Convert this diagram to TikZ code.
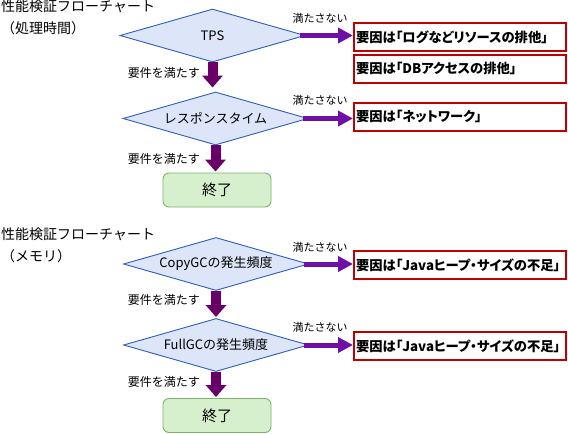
\documentclass[tikz,border=0pt]{standalone}
\usepackage{fontspec}
\setmainfont{Noto Sans CJK JP}
\usetikzlibrary{shapes.geometric,arrows.meta}

\definecolor{checkfill}{HTML}{DCE6F8}
\definecolor{checkline}{HTML}{2F5DB9}
\definecolor{passarrow}{HTML}{680068}
\definecolor{failarrow}{HTML}{6E10A6}
\definecolor{causered}{HTML}{C00000}
\definecolor{endfill}{HTML}{D6EFCC}
\definecolor{endline}{HTML}{7DB46C}

\begin{document}
\begin{tikzpicture}[x=1pt,y=-1pt,
    check/.style={diamond,draw=checkline,fill=checkfill,line width=0.9pt,
      shape aspect=3.5,minimum width=185pt,minimum height=53pt,inner sep=0pt,
      font=\fontsize{13}{15}\selectfont},
    cause/.style={draw=causered,line width=2pt,fill=white,anchor=west,
      text width=208pt,minimum height=28pt,inner sep=2pt,align=left,
      font=\fontsize{13.3}{15}\selectfont\bfseries\addfontfeature{RawFeature=+palt}},
    finish/.style={draw=endline,fill=endfill,rounded corners=6pt,line width=0.9pt,
      minimum width=108pt,minimum height=34pt,font=\fontsize{15}{17}\selectfont},
    pass/.style={draw=passarrow,line width=10pt,-{Triangle[width=20pt,length=12pt]}},
    fail/.style={draw=failarrow,line width=5pt,-{Triangle[width=15pt,length=15pt]}},
    note/.style={inner sep=0pt,font=\fontsize{11}{13}\selectfont},
    okay/.style={note,anchor=east,font=\fontsize{12}{14}\selectfont},
    heading/.style={anchor=north west,inner sep=0pt,align=left,
      font=\fontsize{14}{18}\selectfont},
  ]
    \useasboundingbox (0,0) rectangle (568,434);

    % processing time
    \node[heading] (title1) at (1,0) {性能検証フローチャート\\[4pt]（処理時間）};
    \node[check] (tps) at (212.5,35.5) {TPS};
    \node[check] (resp) at (215.5,118.5) {レスポンスタイム};
    \node[finish] (end1) at (217,190) {終了};
    \node[cause] (log) at (353,37) {要因は「ログなどリソースの排他」};
    \node[cause] (db) at (353,68.5) {要因は「DBアクセスの排他」};
    \node[cause] (net) at (353,117) {要因は「ネットワーク」};

    \draw[pass,shorten >=4pt] (tps.south) -- (tps.south |- resp.north);
    \draw[pass,shorten >=1pt] (resp.south) -- (resp.south |- end1.north);
    \draw[fail,shorten <=-5pt] (tps.east) -- (tps.east -| log.west);
    \draw[fail,shorten <=-5pt] (resp.east) -- (resp.east -| net.west);

    \node[note] (no1) at (320,18) {満たさない};
    \node[note] (no2) at (320,100) {満たさない};
    \node[okay] (ok1) at (200,73) {要件を満たす};
    \node[okay] (ok2) at (200,159) {要件を満たす};

    % memory
    \node[heading] (title2) at (1,228) {性能検証フローチャート\\[4pt]（メモリ）};
    \node[check] (copygc) at (216,264) {CopyGCの発生頻度};
    \node[check] (fullgc) at (216,345) {FullGCの発生頻度};
    \node[finish] (end2) at (217,415.5) {終了};
    \node[cause] (heap1) at (353,265) {要因は「Javaヒープ・サイズの不足」};
    \node[cause] (heap2) at (353,346) {要因は「Javaヒープ・サイズの不足」};

    \draw[pass,shorten >=1pt] (copygc.south) -- (copygc.south |- fullgc.north);
    \draw[pass,shorten >=1pt] (fullgc.south) -- (fullgc.south |- end2.north);
    \draw[fail,shorten <=-5pt] (copygc.east) -- (copygc.east -| heap1.west);
    \draw[fail,shorten <=-5pt] (fullgc.east) -- (fullgc.east -| heap2.west);

    \node[note] (no3) at (320,247) {満たさない};
    \node[note] (no4) at (320,327) {満たさない};
    \node[okay] (ok3) at (200,300) {要件を満たす};
    \node[okay] (ok4) at (200,382) {要件を満たす};
\end{tikzpicture}
\end{document}
